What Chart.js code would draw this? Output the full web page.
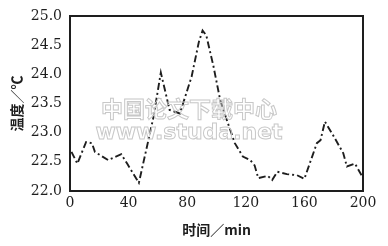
<!DOCTYPE html>
<html>
<head>
<meta charset="utf-8">
<script src="https://cdn.jsdelivr.net/npm/chart.js@4/dist/chart.umd.min.js"></script>
<style>
  html, body { margin: 0; padding: 0; background: #fff; }
  #wrap { width: 388px; height: 246px; position: relative; }
</style>
</head>
<body>
<div id="wrap"><canvas id="chart"></canvas></div>
<script>
// 时间 (min) / 温度 (℃)
const times = [1, 5, 11, 15, 17, 26, 35, 39, 47, 53.5, 57, 62, 68, 75, 83, 88, 90.5, 93, 98, 102.5, 107, 112.5, 118, 123, 126, 128.5, 135, 138, 141.5, 148, 155, 160, 168.5, 171, 174, 179.5, 186.5, 189, 194.5, 199];
const temps = [22.67, 22.47, 22.84, 22.82, 22.67, 22.53, 22.63, 22.47, 22.14, 22.87, 23.27, 24.03, 23.39, 23.33, 23.96, 24.56, 24.75, 24.67, 24.13, 23.56, 23.22, 22.82, 22.59, 22.53, 22.44, 22.22, 22.26, 22.19, 22.33, 22.29, 22.27, 22.21, 22.82, 22.87, 23.19, 22.96, 22.65, 22.42, 22.47, 22.27];
const xTicks = [0, 40, 80, 120, 160, 200];
const yTicks = [22.0, 22.5, 23.0, 23.5, 24.0, 24.5, 25.0];

const points = times.map((t, i) => ({ x: t, y: temps[i] }));

const ink = '#1e1e1e';
const tickFont = { family: 'DejaVu Serif', size: 14 };
const titleFont = { family: 'Noto Sans CJK SC', size: 14, weight: 'bold' };

// frame round the plot + faint watermark text
const framePlugin = {
    id: 'frame',
    afterDraw(chart) {
        const { ctx, chartArea } = chart;
        ctx.save();
        ctx.strokeStyle = ink;
        ctx.lineWidth = 2;
        ctx.strokeRect(chartArea.left, chartArea.top, chartArea.right - chartArea.left, chartArea.bottom - chartArea.top);

        ctx.strokeStyle = '#c8c8c8';
        ctx.lineWidth = 1;
        ctx.textAlign = 'center';
        ctx.textBaseline = 'middle';
        ctx.font = 'bold 22px "Noto Sans CJK SC"';
        ctx.strokeText('中国论文下载中心', 189, 109);
        ctx.font = 'bold 22px "DejaVu Sans"';
        ctx.strokeText('www.studa.net', 189, 133);
        ctx.restore();
    }
};

new Chart(document.getElementById('chart'), {
    type: 'line',
    data: {
        datasets: [{
            data: points,
            borderColor: ink,
            borderWidth: 1.9,
            borderDash: [7, 3, 2, 3],
            pointRadius: 0,
            tension: 0,
            fill: false
        }]
    },
    options: {
        responsive: true,
        maintainAspectRatio: false,
        animation: false,
        layout: { padding: { top: 16, right: 25, left: 0, bottom: 0 } },
        plugins: { legend: { display: false }, tooltip: { enabled: false } },
        scales: {
            x: {
                type: 'linear',
                min: 0,
                max: 200,
                afterBuildTicks: axis => { axis.ticks = xTicks.map(v => ({ value: v })); },
                afterFit: axis => { axis.height = 55; },
                grid: { display: false },
                border: { display: false },
                ticks: { color: ink, font: tickFont, padding: -4, maxRotation: 0 },
                title: { display: true, text: '时间／min', color: ink, font: titleFont, padding: { top: 0, bottom: 8 } }
            },
            y: {
                type: 'linear',
                min: 22,
                max: 25,
                afterBuildTicks: axis => { axis.ticks = yTicks.map(v => ({ value: v })); },
                afterFit: axis => { axis.width = 70; },
                grid: { display: false },
                border: { display: false },
                ticks: { color: ink, font: tickFont, padding: 0, callback: v => v.toFixed(1) },
                title: { display: true, text: '温度／℃', color: ink, font: titleFont, padding: { top: 8, bottom: 0 } }
            }
        }
    },
    plugins: [framePlugin]
});
</script>
</body>
</html>
